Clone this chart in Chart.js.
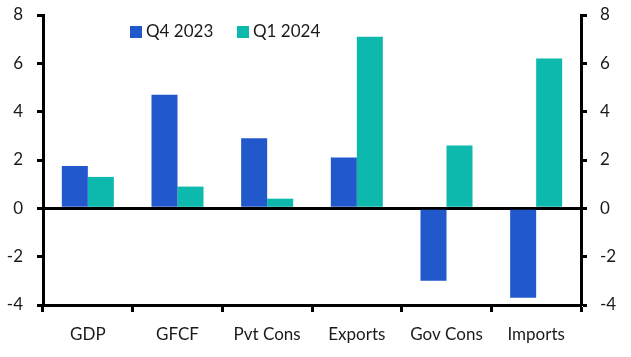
<!DOCTYPE html>
<html><head><meta charset="utf-8">
<script src="https://cdn.jsdelivr.net/npm/chart.js@4/dist/chart.umd.min.js"></script>
<style>html,body{margin:0;padding:0;background:#fff}#wrap{width:631px;height:357px;position:relative}</style>
</head><body><div id="wrap"><canvas id="c" width="631" height="357"></canvas></div>
<script>
const categories = ['GDP','GFCF','Pvt Cons','Exports','Gov Cons','Imports'];
const q4_2023 = [1.75, 4.7, 2.9, 2.1, -3.0, -3.7];
const q1_2024 = [1.3, 0.9, 0.4, 7.1, 2.6, 6.2];
const seriesLabels = ['Q4 2023','Q1 2024'];
const yTicks = [-4,-2,0,2,4,6,8];

const FONT = 'Lato';
const TXT = '#1a1a1a';

const legendPlugin = {
  id:'customLegend',
  afterDraw(chart){
    const ctx = chart.ctx;
    const items = [{x:130, color:chart.data.datasets[0].backgroundColor, label:chart.data.datasets[0].label},
                   {x:237, color:chart.data.datasets[1].backgroundColor, label:chart.data.datasets[1].label}];
    ctx.save();
    ctx.font = '17px ' + FONT;
    ctx.textBaseline = 'middle';
    items.forEach(it=>{
      ctx.fillStyle = it.color;
      ctx.fillRect(it.x, 26, 12, 12);
      ctx.fillStyle = TXT;
      ctx.fillText(it.label, it.x+16, 32);
    });
    ctx.restore();
  }
};

const tickCfg = {display:true, drawOnChartArea:true, drawTicks:true, tickLength:6, tickWidth:3, tickColor:'#000',
  lineWidth:3, color:(c)=> (c.tick && c.tick.value===0) ? '#000' : 'rgba(0,0,0,0)'};

function fixV(w){ return function(s){ s.width = w; s.paddingTop = 0; s.paddingBottom = 0; }; }

new Chart(document.getElementById('c'), {
  type:'bar',
  data:{labels:categories, datasets:[
    {label:seriesLabels[0], data:q4_2023, backgroundColor:'#2158CC', yAxisID:'y'},
    {label:seriesLabels[1], data:q1_2024, backgroundColor:'#0DB9AC', yAxisID:'y'}
  ]},
  options:{
    responsive:false, animation:false,
    layout:{padding:{top:15, bottom:0, left:0, right:0}},
    categoryPercentage:0.58, barPercentage:1.0,
    plugins:{legend:{display:false}, tooltip:{enabled:false}},
    scales:{
      x:{
        grid:{display:true, offset:true, drawOnChartArea:false, drawTicks:true, tickLength:7, tickWidth:3, tickColor:'#000'},
        border:{display:true, width:3, color:'#000'},
        ticks:{color:TXT, font:{family:FONT, size:17}, padding:12},
        afterFit(s){ s.height = 52; s.paddingLeft = 0; s.paddingRight = 0; }
      },
      y:{
        position:'left', min:-4, max:8,
        afterBuildTicks(s){ s.ticks = yTicks.map(v=>({value:v})); },
        grid:tickCfg,
        border:{display:true, width:3, color:'#000'},
        ticks:{color:TXT, font:{family:FONT, size:17}, padding:14},
        afterFit: fixV(43)
      },
      y2:{
        position:'right', min:-4, max:8,
        afterBuildTicks(s){ s.ticks = yTicks.map(v=>({value:v})); },
        grid:{display:true, drawOnChartArea:false, drawTicks:true, tickLength:6, tickWidth:3, tickColor:'#000'},
        border:{display:true, width:3, color:'#000'},
        ticks:{color:TXT, font:{family:FONT, size:17}, padding:13},
        afterFit: fixV(50)
      }
    }
  },
  plugins:[legendPlugin]
});
</script></body></html>
